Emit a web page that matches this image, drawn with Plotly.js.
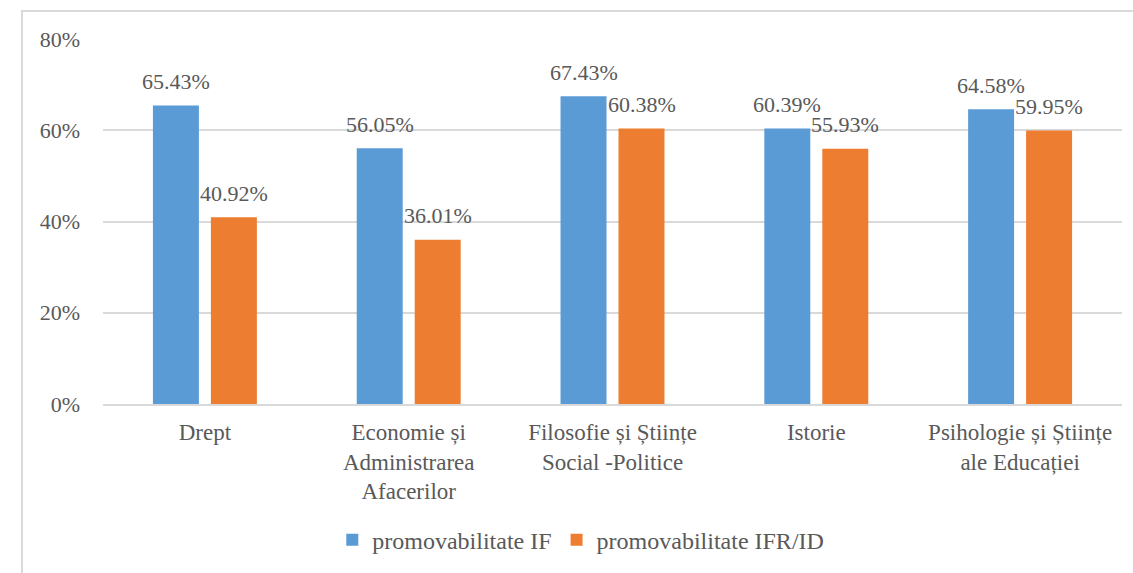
<!DOCTYPE html>
<html>
<head>
<meta charset="utf-8">
<script src="https://cdn.plot.ly/plotly-3.0.1.min.js"></script>
<style>
  html, body { margin: 0; padding: 0; background: #fff; overflow: hidden; }
  #wrap { position: relative; width: 1133px; height: 573px; }
  #chart { position: absolute; left: 0; top: 0; width: 1133px; height: 573px; }
  #frame { position: absolute; left: 21px; top: 10px; width: 1200px; height: 700px;
           border: 2px solid #d9d9d9; box-sizing: border-box; pointer-events: none; }
</style>
</head>
<body>
<div id="wrap">
  <div id="chart"></div>
  <div id="frame"></div>
</div>
<script>
const categories = [
  "Drept",
  "Economie și<br>Administrarea<br>Afacerilor",
  "Filosofie și Științe<br>Social -Politice",
  "Istorie",
  "Psihologie și Științe<br>ale Educației"
];
const seriesNames = ["promovabilitate IF", "promovabilitate IFR/ID"];
const valuesIF = [0.6543, 0.5605, 0.6743, 0.6039, 0.6458];
const valuesIFR = [0.4092, 0.3601, 0.6038, 0.5593, 0.5995];
const yTickVals = [0, 0.2, 0.4, 0.6, 0.8];
const yTickText = ["0%", "20%", "40%", "60%", "80%"];

const colors = ["#5B9BD5", "#ED7D31"];
const FONT = "'Liberation Serif', 'Times New Roman', serif";
const GRAY = "#595959";

const traces = [
  { type: "bar", name: seriesNames[0], x: categories, y: valuesIF,
    marker: { color: colors[0] }, hoverinfo: "skip" },
  { type: "bar", name: seriesNames[1], x: categories, y: valuesIFR,
    marker: { color: colors[1] }, hoverinfo: "skip" }
];

const fmt = v => (v * 100).toFixed(2) + "%";
const annotations = [];
[valuesIF, valuesIFR].forEach((vals, s) => {
  vals.forEach((v, i) => {
    annotations.push({
      x: categories[i], y: v, xref: "x", yref: "y",
      text: fmt(v), showarrow: false,
      xshift: s === 0 ? -29 : 29, yshift: 24,
      yanchor: "middle", xanchor: "center",
      font: { family: FONT, size: 22, color: GRAY }
    });
  });
});

const layout = {
  width: 1133, height: 573,
  margin: { l: 103, r: 11, t: 39, b: 167 },
  paper_bgcolor: "rgba(0,0,0,0)",
  plot_bgcolor: "#ffffff",
  barmode: "group",
  bargap: 0.431,
  bargroupgap: 0.207,
  font: { family: FONT, size: 22, color: GRAY },
  xaxis: {
    type: "category",
    showgrid: false,
    showline: true, linecolor: "#d9d9d9", linewidth: 2,
    ticks: "", ticklabelstandoff: 6,
    tickfont: { family: FONT, size: 23, color: GRAY },
    fixedrange: true
  },
  yaxis: {
    range: [0, 0.8],
    tickvals: yTickVals, ticktext: yTickText,
    showgrid: true, gridcolor: "#d9d9d9", gridwidth: 2,
    zeroline: false, showline: false,
    ticks: "", ticklabelstandoff: 22,
    tickfont: { family: FONT, size: 22, color: GRAY },
    fixedrange: true
  },
  showlegend: true,
  legend: {
    orientation: "h",
    x: 0.225, xanchor: "left",
    y: -0.373, yanchor: "middle",
    font: { family: FONT, size: 24, color: GRAY },
    itemclick: false, itemdoubleclick: false,
    traceorder: "normal"
  },
  annotations: annotations
};

Plotly.newPlot("chart", traces, layout, { displayModeBar: false, staticPlot: true });
</script>
</body>
</html>
